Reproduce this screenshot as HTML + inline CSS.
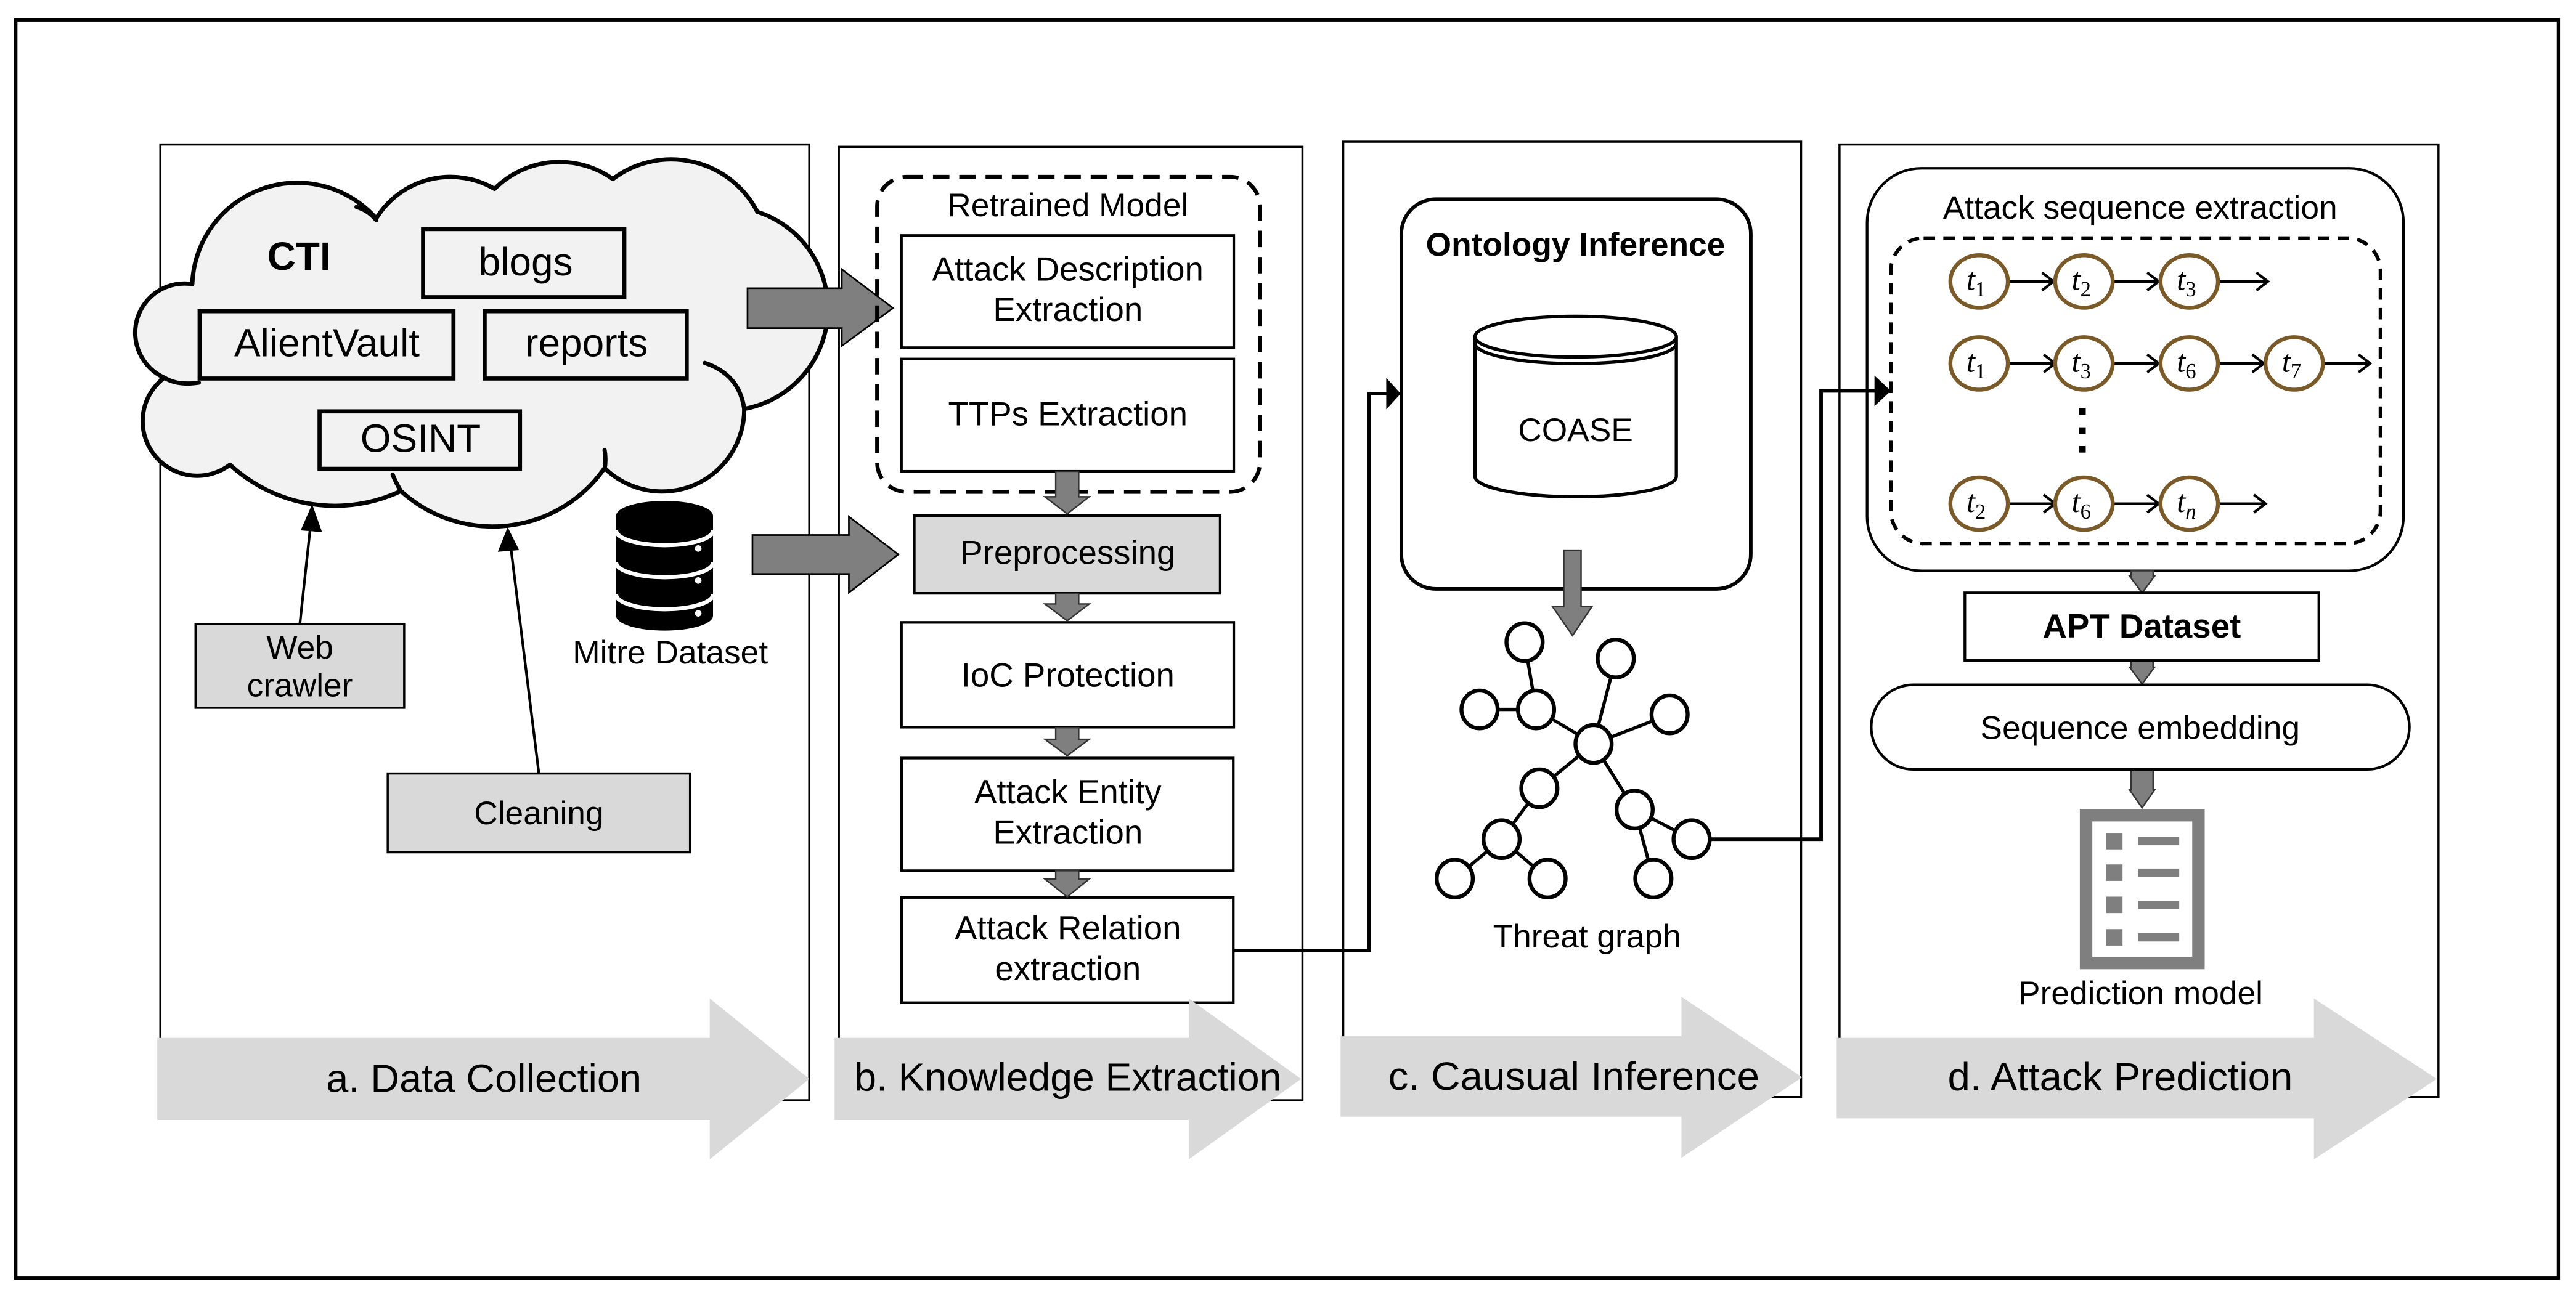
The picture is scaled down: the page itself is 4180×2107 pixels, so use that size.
<!DOCTYPE html>
<html><head><meta charset="utf-8"><style>html,body{margin:0;padding:0;background:#fff}svg{display:block}</style></head>
<body>
<svg xmlns="http://www.w3.org/2000/svg" width="4180" height="2107" viewBox="0 0 1568 790.4" font-family="Liberation Sans, Arial, sans-serif">
<rect x="0" y="0" width="1568" height="790.4" fill="#fff"/>
<!-- outer frame -->
<rect x="9.6" y="12.1" width="1547.7" height="766.2" fill="none" stroke="#000" stroke-width="2"/>
<!-- panels -->
<g fill="none" stroke="#000" stroke-width="1.3">
<rect x="97.6" y="88" width="395" height="582"/>
<rect x="510.6" y="89.4" width="282.2" height="580.6"/>
<rect x="817.6" y="86.3" width="278.7" height="581.7"/>
<rect x="1119.7" y="88" width="364.6" height="580"/>
</g>

<!-- Cloud -->
<path d="M140,283 A33,33 0 0 1 100,230 A30,30 0 0 1 117,173 A64,64 0 0 1 229,133 A53,53 0 0 1 301,115 A56,56 0 0 1 373,109 A59,59 0 0 1 461,129 A62,62 0 0 1 453,249 A50,50 0 0 1 368,285 A83,83 0 0 1 244,299 A94,94 0 0 1 140,283 Z" fill="#f2f2f2" stroke="#000" stroke-width="2.6" stroke-linejoin="round"/>
<g fill="none" stroke="#000" stroke-width="2.6" stroke-linecap="round">
<path d="M217,126 Q224,128 229,134"/>
<path d="M100,230 Q108,235 121,233"/>
<path d="M429,221 Q450,228 453,249"/>
<path d="M368,274 Q369,280 368,286"/>
<path d="M239,289 Q241,294 244,299"/>
</g>
<g fill="none" stroke="#000" stroke-width="2.5">
<rect x="257.5" y="139.5" width="122.5" height="41.5"/>
<rect x="121.5" y="189.5" width="154.5" height="41"/>
<rect x="295" y="189.5" width="123" height="41"/>
<rect x="194.5" y="250.5" width="122" height="35"/>
</g>
<g font-size="24" text-anchor="middle" fill="#000">
<text x="182" y="164.4" font-weight="bold">CTI</text>
<text x="320" y="167.6">blogs</text>
<text x="199" y="217">AlientVault</text>
<text x="357" y="217">reports</text>
<text x="256" y="275.2">OSINT</text>
</g>

<!-- Web crawler & Cleaning -->
<rect x="119" y="380" width="127" height="51" fill="#d9d9d9" stroke="#000" stroke-width="1.3"/>
<text x="182.5" y="401" font-size="20" text-anchor="middle">Web</text>
<text x="182.5" y="424" font-size="20" text-anchor="middle">crawler</text>
<rect x="236" y="471" width="184" height="48" fill="#d9d9d9" stroke="#000" stroke-width="1.3"/>
<text x="328" y="502" font-size="20" text-anchor="middle">Cleaning</text>
<g stroke="#000" stroke-width="1.6">
<line x1="182.5" y1="380" x2="189" y2="320"/>
<line x1="328" y1="471" x2="311" y2="334"/>
</g>
<polygon points="190,307 183,323 196,324" fill="#000"/>
<polygon points="309,321 303,336 316,335" fill="#000"/>

<!-- Mitre DB -->
<g>
<rect x="375" y="314" width="59" height="61" fill="#000"/>
<ellipse cx="404.5" cy="314" rx="29.5" ry="9" fill="#000"/>
<ellipse cx="404.5" cy="375" rx="29.5" ry="9" fill="#000"/>
<g fill="none" stroke="#fff" stroke-width="2.5">
<path d="M375,323 A29.5,9 0 0 0 434,323"/>
<path d="M375,342.5 A29.5,9 0 0 0 434,342.5"/>
<path d="M375,362 A29.5,9 0 0 0 434,362"/>
</g>
<g fill="#fff"><circle cx="425" cy="334" r="2"/><circle cx="425" cy="353.5" r="2"/><circle cx="425" cy="373.5" r="2"/></g>
</g>
<text x="408" y="404" font-size="20" text-anchor="middle">Mitre Dataset</text>

<!-- Big gray arrows into panel b -->
<polygon points="455,175.5 512.4,175.5 512.4,164 543.6,187.6 512.4,210.6 512.4,199.8 455,199.8" fill="#7f7f7f" stroke="#000" stroke-width="1"/>
<polygon points="458,325.8 516.7,325.8 516.7,314.6 546.8,337.6 516.7,360.9 516.7,349.5 458,349.5" fill="#7f7f7f" stroke="#000" stroke-width="1"/>

<!-- Panel b -->
<rect x="533.9" y="107.7" width="233" height="191.8" rx="18" fill="none" stroke="#000" stroke-width="2.4" stroke-dasharray="10,6"/>
<text x="650" y="131.6" font-size="20" text-anchor="middle">Retrained Model</text>
<g fill="#fff" stroke="#000" stroke-width="1.6">
<rect x="548.7" y="143.4" width="202.3" height="68.3"/>
<rect x="548.7" y="218.6" width="202.3" height="68.4"/>
<rect x="556.5" y="314" width="186.2" height="47.3" fill="#d9d9d9"/>
<rect x="548.7" y="379" width="202.3" height="63.8"/>
<rect x="548.8" y="461.6" width="201.9" height="68.6"/>
<rect x="548.8" y="546.5" width="201.9" height="64.1"/>
</g>
<g font-size="20.5" text-anchor="middle">
<text x="650" y="170.8">Attack Description</text>
<text x="650" y="195.5">Extraction</text>
<text x="650" y="259">TTPs Extraction</text>
<text x="650" y="343.5">Preprocessing</text>
<text x="650" y="418">IoC Protection</text>
<text x="650" y="489.2">Attack Entity</text>
<text x="650" y="513.8">Extraction</text>
<text x="650" y="572">Attack Relation</text>
<text x="650" y="596.9">extraction</text>
</g>
<g fill="#7f7f7f" stroke="#333" stroke-width="0.9">
<polygon points="642.6,287 656.6,287 656.6,302.5 663,302.5 649.6,312.9 636,302.5 642.6,302.5"/>
<polygon points="642.6,361.3 656.6,361.3 656.6,367.8 663,367.8 649.6,378 636,367.8 642.6,367.8"/>
<polygon points="642.6,443.1 656.6,443.1 656.6,450.2 663,450.2 649.6,460.2 636,450.2 642.6,450.2"/>
<polygon points="642.6,530.2 656.6,530.2 656.6,535.3 663,535.3 649.6,546.1 636,535.3 642.6,535.3"/>
</g>

<!-- connector b -> c -->
<polyline points="750.7,578.8 833.3,578.8 833.3,239.7 845,239.7" fill="none" stroke="#000" stroke-width="2"/>
<polygon points="843.8,230.1 852.6,239.7 843.8,249.3" fill="#000"/>

<!-- Panel c -->
<rect x="853" y="121.3" width="212.7" height="237.3" rx="21" fill="none" stroke="#000" stroke-width="2.2"/>
<text x="959" y="155.6" font-size="20" font-weight="bold" text-anchor="middle">Ontology Inference</text>
<g fill="#fff" stroke="#000" stroke-width="2">
<path d="M897.8,205 L897.8,290 A61.3,12.5 0 0 0 1020.4,290 L1020.4,205"/>
<ellipse cx="959.1" cy="205" rx="61.3" ry="12.4"/>
<path d="M897.8,209 A61.3,12.4 0 0 0 1020.4,209" fill="none"/>
</g>
<text x="959" y="268.5" font-size="20" text-anchor="middle">COASE</text>
<polygon points="951.9,335 962.4,335 962.4,369.4 969,369.4 957.2,387 945,369.4 951.9,369.4" fill="#7f7f7f" stroke="#333" stroke-width="0.9"/>

<!-- Threat graph -->
<g stroke="#000" stroke-width="2">
<line x1="928" y1="391" x2="935" y2="432"/>
<line x1="900.6" y1="432" x2="935" y2="432"/>
<line x1="935" y1="432" x2="970" y2="453"/>
<line x1="983.5" y1="401" x2="970" y2="453"/>
<line x1="1016.3" y1="435" x2="970" y2="453"/>
<line x1="970" y1="453" x2="937" y2="480"/>
<line x1="970" y1="453" x2="995" y2="493"/>
<line x1="995" y1="493" x2="1029.7" y2="511"/>
<line x1="995" y1="493" x2="1006.4" y2="535"/>
<line x1="937" y1="480" x2="914" y2="511"/>
<line x1="914" y1="511" x2="885.5" y2="535"/>
<line x1="914" y1="511" x2="942" y2="535"/>
</g>
<!-- connector c -> d -->
<polyline points="1040,511 1108.5,511 1108.5,238 1142,238" fill="none" stroke="#000" stroke-width="2.2"/>
<polygon points="1141,228.7 1151,238 1141,247.3" fill="#000"/>
<g fill="#fff" stroke="#000" stroke-width="2.4">
<ellipse cx="928" cy="391" rx="11" ry="11.5"/>
<ellipse cx="900.6" cy="432" rx="11" ry="11.5"/>
<ellipse cx="935" cy="432" rx="11" ry="11.5"/>
<ellipse cx="970" cy="453" rx="11" ry="11.5"/>
<ellipse cx="983.5" cy="401" rx="11" ry="11.5"/>
<ellipse cx="1016.3" cy="435" rx="11" ry="11.5"/>
<ellipse cx="937" cy="480" rx="11" ry="11.5"/>
<ellipse cx="995" cy="493" rx="11" ry="11.5"/>
<ellipse cx="1029.7" cy="511" rx="11" ry="11.5"/>
<ellipse cx="914" cy="511" rx="11" ry="11.5"/>
<ellipse cx="885.5" cy="535" rx="11" ry="11.5"/>
<ellipse cx="942" cy="535" rx="11" ry="11.5"/>
<ellipse cx="1006.4" cy="535" rx="11" ry="11.5"/>
</g>
<text x="966" y="577" font-size="20" text-anchor="middle">Threat graph</text>

<!-- Panel d -->
<rect x="1136.5" y="102.5" width="326.5" height="245.1" rx="33" fill="none" stroke="#000" stroke-width="1.6"/>
<text x="1302.7" y="133.2" font-size="20" text-anchor="middle">Attack sequence extraction</text>
<rect x="1150.9" y="145" width="298.1" height="186" rx="20" fill="none" stroke="#000" stroke-width="2.2" stroke-dasharray="7,5"/>
<!-- sequence arrows -->
<g stroke="#000" stroke-width="1.6" fill="none">
<line x1="1222" y1="171.4" x2="1250" y2="171.4"/><polyline points="1243,166 1250,171.4 1243,176.8"/>
<line x1="1286" y1="171.4" x2="1314" y2="171.4"/><polyline points="1307,166 1314,171.4 1307,176.8"/>
<line x1="1350" y1="171.4" x2="1380.5" y2="171.4"/><polyline points="1373.5,166 1380.5,171.4 1373.5,176.8"/>
<line x1="1222" y1="221.3" x2="1251" y2="221.3"/><polyline points="1244,215.9 1251,221.3 1244,226.7"/>
<line x1="1286" y1="221.3" x2="1314" y2="221.3"/><polyline points="1307,215.9 1314,221.3 1307,226.7"/>
<line x1="1350" y1="221.3" x2="1378" y2="221.3"/><polyline points="1371,215.9 1378,221.3 1371,226.7"/>
<line x1="1414" y1="221.3" x2="1442.7" y2="221.3"/><polyline points="1435.7,215.9 1442.7,221.3 1435.7,226.7"/>
<line x1="1222" y1="306.7" x2="1251" y2="306.7"/><polyline points="1244,301.3 1251,306.7 1244,312.1"/>
<line x1="1286" y1="306.7" x2="1314" y2="306.7"/><polyline points="1307,301.3 1314,306.7 1307,312.1"/>
<line x1="1350" y1="306.7" x2="1379" y2="306.7"/><polyline points="1372,301.3 1379,306.7 1372,312.1"/>
</g>
<g fill="#000"><rect x="1265.6" y="248.5" width="4" height="4"/><rect x="1265.6" y="260.2" width="4" height="4"/><rect x="1265.6" y="271.6" width="4" height="4"/></g>
<g fill="#fff" stroke="#7a5a28" stroke-width="2.4">
<ellipse cx="1204.7" cy="171.4" rx="17.5" ry="16"/><ellipse cx="1268.5" cy="171.4" rx="17.5" ry="16"/><ellipse cx="1332.6" cy="171.4" rx="17.5" ry="16"/>
<ellipse cx="1204.7" cy="221.3" rx="17.5" ry="16"/><ellipse cx="1268.5" cy="221.3" rx="17.5" ry="16"/><ellipse cx="1332.6" cy="221.3" rx="17.5" ry="16"/><ellipse cx="1396.5" cy="221.3" rx="17.5" ry="16"/>
<ellipse cx="1204.7" cy="306.7" rx="17.5" ry="16"/><ellipse cx="1268.5" cy="306.7" rx="17.5" ry="16"/><ellipse cx="1332.6" cy="306.7" rx="17.5" ry="16"/>
</g>
<g font-family="Liberation Serif, serif" font-size="19" fill="#000">
<text x="1197" y="176.5"><tspan font-style="italic">t</tspan><tspan font-size="13" dy="4">1</tspan></text>
<text x="1261" y="176.5"><tspan font-style="italic">t</tspan><tspan font-size="13" dy="4">2</tspan></text>
<text x="1325" y="176.5"><tspan font-style="italic">t</tspan><tspan font-size="13" dy="4">3</tspan></text>
<text x="1197" y="226.4"><tspan font-style="italic">t</tspan><tspan font-size="13" dy="4">1</tspan></text>
<text x="1261" y="226.4"><tspan font-style="italic">t</tspan><tspan font-size="13" dy="4">3</tspan></text>
<text x="1325" y="226.4"><tspan font-style="italic">t</tspan><tspan font-size="13" dy="4">6</tspan></text>
<text x="1389" y="226.4"><tspan font-style="italic">t</tspan><tspan font-size="13" dy="4">7</tspan></text>
<text x="1197" y="311.8"><tspan font-style="italic">t</tspan><tspan font-size="13" dy="4">2</tspan></text>
<text x="1261" y="311.8"><tspan font-style="italic">t</tspan><tspan font-size="13" dy="4">6</tspan></text>
<text x="1325" y="311.8"><tspan font-style="italic">t</tspan><tspan font-size="13" dy="4" font-style="italic">n</tspan></text>
</g>
<g fill="#7f7f7f" stroke="#333" stroke-width="0.9">
<polygon points="1297.2,347.6 1310.6,347.6 1310.6,350.8 1311.5,350.8 1303.9,361 1296.3,350.8 1297.2,350.8"/>
<polygon points="1297.2,402.2 1310.6,402.2 1310.6,406.3 1311.5,406.3 1303.9,416.5 1296.3,406.3 1297.2,406.3"/>
<polygon points="1297.2,468.5 1310.6,468.5 1310.6,481 1311.5,481 1303.9,491.9 1296.3,481 1297.2,481"/>
</g>
<rect x="1196" y="361" width="215.5" height="41.2" fill="#fff" stroke="#000" stroke-width="1.6"/>
<text x="1303.7" y="388.3" font-size="20.5" font-weight="bold" text-anchor="middle">APT Dataset</text>
<rect x="1139" y="417" width="327.6" height="51.5" rx="25.7" fill="#fff" stroke="#000" stroke-width="1.6"/>
<text x="1302.7" y="450" font-size="20" text-anchor="middle">Sequence embedding</text>
<!-- prediction icon -->
<rect x="1269.8" y="496.4" width="68.4" height="90" fill="none" stroke="#7f7f7f" stroke-width="7.6"/>
<g fill="#7f7f7f">
<rect x="1282" y="507.2" width="10" height="10"/><rect x="1301.5" y="509.7" width="25" height="5"/>
<rect x="1282" y="526.4" width="10" height="10"/><rect x="1301.5" y="528.9" width="25" height="5"/>
<rect x="1282" y="546" width="10" height="10"/><rect x="1301.5" y="548.5" width="25" height="5"/>
<rect x="1282" y="565.8" width="10" height="10"/><rect x="1301.5" y="568.3" width="25" height="5"/>
</g>
<text x="1303" y="611.5" font-size="20" text-anchor="middle">Prediction model</text>

<!-- Bottom phase arrows -->
<g fill="#d9d9d9">
<polygon points="95.7,632 432,632 432,608 492.6,657 432,706 432,682 95.7,682"/>
<polygon points="508,632 723.6,632 723.6,608 792,657 723.6,706 723.6,682 508,682"/>
<polygon points="816,631 1023.5,631 1023.5,607 1097,656 1023.5,705 1023.5,680 816,680"/>
<polygon points="1118,632 1408.5,632 1408.5,608 1483.3,657 1408.5,706 1408.5,681 1118,681"/>
</g>
<g font-size="24" text-anchor="middle" fill="#000">
<text x="294.5" y="665" textLength="192" lengthAdjust="spacingAndGlyphs">a. Data Collection</text>
<text x="650" y="664.2" textLength="260" lengthAdjust="spacingAndGlyphs">b. Knowledge Extraction</text>
<text x="958" y="663.6" textLength="226" lengthAdjust="spacingAndGlyphs">c. Causual Inference</text>
<text x="1290.6" y="664" textLength="210" lengthAdjust="spacingAndGlyphs">d. Attack Prediction</text>
</g>
</svg>
</body></html>
